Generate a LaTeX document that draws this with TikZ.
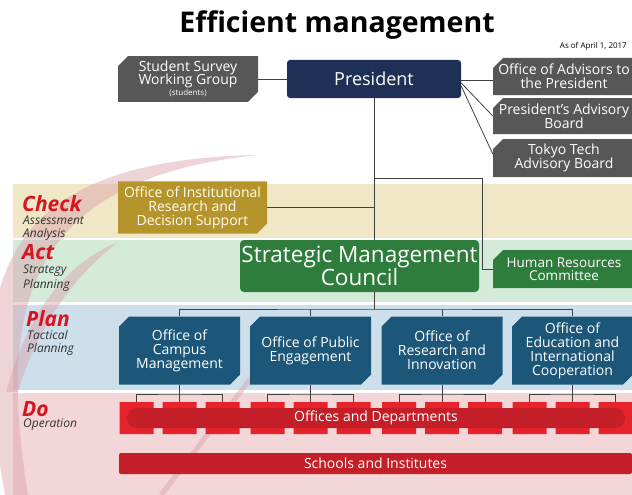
\documentclass[tikz,border=0pt]{standalone}
\usepackage{fontspec}
\setmainfont{Open Sans}
\usetikzlibrary{shapes.misc,backgrounds}

\definecolor{boxgray}{HTML}{575757}
\definecolor{presblue}{HTML}{1F3057}
\definecolor{planblue}{HTML}{1C5779}
\definecolor{oirgold}{HTML}{B5952B}
\definecolor{smcgreen}{HTML}{2E7D3C}
\definecolor{tabred}{HTML}{E6222B}
\definecolor{bardark}{HTML}{C41F28}
\definecolor{phasered}{HTML}{D7141F}
\definecolor{checkband}{HTML}{F0E7C6}
\definecolor{actband}{HTML}{D4EBDA}
\definecolor{planband}{HTML}{CDDFEA}
\definecolor{doband}{HTML}{F2D6D8}
\definecolor{swooshc}{HTML}{D9A0A8}

\newcommand{\fsz}[1]{\fontsize{#1}{#1}\selectfont}

\tikzset{
  box/.style={inner sep=0pt, align=center, text=white},
  cham/.style={chamfered rectangle, chamfered rectangle xsep=5pt, chamfered rectangle ysep=5pt},
  graybox/.style={box, cham, fill=boxgray, font=\fsz{14}, minimum width=142pt},
  planbox/.style={box, cham, chamfered rectangle corners={north west,south east},
    fill=planblue, font=\fsz{14}, minimum width=121pt, minimum height=68pt},
  tab/.style={cham, fill=tabred, inner sep=0pt, minimum width=34pt, minimum height=32pt,
    chamfered rectangle xsep=3pt, chamfered rectangle ysep=3pt},
  phase/.style={anchor=west, inner sep=0pt, text=phasered, font=\fsz{21}\bfseries\itshape},
  phasesub/.style={anchor=west, inner sep=0pt, text=black!80, font=\fsz{12}\itshape},
  conn/.style={draw=black!75, line width=0.8pt},
}

\begin{document}
\begin{tikzpicture}[x=1pt,y=-1pt]
  \clip (0,0) rectangle (632,495);

  \node[font=\fsz{28.5}\bfseries] (title) at (337,25) {Efficient management};
  \node[anchor=east, inner sep=0pt, font=\fsz{8}] (asof) at (627,46) {As of April 1, 2017};

  % top row
  \node[box, cham, chamfered rectangle corners={north west,south east}, fill=boxgray,
    minimum width=140pt, minimum height=42pt, font=\fsz{14}] (sswg) at (188,79)
    {Student Survey\\[-1pt]Working Group\\[-3pt]{\fsz{8}(students)}};
  \node[box, fill=presblue, rounded corners=3pt, minimum width=174pt, minimum height=38pt,
    font=\fsz{18}] (pres) at (374,79) {President};
  \node[graybox, chamfered rectangle corners=north west, minimum height=37pt] (adv) at (564,76.5)
    {Office of Advisors to\\the President};
  \node[graybox, chamfered rectangle corners=north west, minimum height=36pt] (padv) at (564,116)
    {President’s Advisory\\Board};
  \node[graybox, chamfered rectangle corners=north west, minimum height=38pt] (ttab) at (564,158)
    {Tokyo Tech\\Advisory Board};

  % phases
  \node[phase] (check) at (22,204) {Check};
  \node[phasesub] (checka) at (23,220) {Assessment};
  \node[phasesub] (checkb) at (23,234) {Analysis};
  \node[phase] (act) at (22,252) {Act};
  \node[phasesub] (acta) at (23,271) {Strategy};
  \node[phasesub] (actb) at (23,285) {Planning};
  \node[phase] (plan) at (26,319) {Plan};
  \node[phasesub] (plana) at (27,335) {Tactical};
  \node[phasesub] (planb) at (27,349) {Planning};
  \node[phase] (do) at (22,409) {Do};
  \node[phasesub] (doa) at (23,425) {Operation};

  % check / act
  \node[box, cham, chamfered rectangle corners=south east, fill=oirgold, text=white!92!yellow,
    minimum width=149pt, minimum height=49pt, font=\fsz{14}] (oir) at (192.5,207.5)
    {Office of Institutional\\Research and\\Decision Support};
  \node[box, fill=smcgreen, rounded corners=4pt, minimum width=239pt, minimum height=52pt,
    font=\fsz{22.5}] (smc) at (359.5,266) {Strategic Management\\Council};
  \node[box, cham, chamfered rectangle corners=north west, fill=smcgreen,
    minimum width=142pt, minimum height=38pt, font=\fsz{13.5}] (hr) at (564,269)
    {Human Resources\\Committee};

  % plan
  \node[planbox] (camp) at (179.5,350.5) {Office of\\Campus\\Management};
  \node[planbox] (pub) at (310.5,350.5) {Office of Public\\Engagement};
  \node[planbox] (res) at (442,350.5) {Office of\\Research and\\Innovation};
  \node[planbox] (edu) at (572.5,350.5) {Office of\\Education and\\International\\Cooperation};

  % do
  \foreach \b/\x in {camp/179.5,pub/310.5,res/442,edu/572.5} {
    \node[tab] (\b1) at (\x-43,418) {};
    \node[tab] (\b2) at (\x,418) {};
    \node[tab] (\b3) at (\x+43,418) {};
    \coordinate (\b br) at (\x,394);
  }
  \node[box, fill=bardark, rounded corners=10pt, minimum width=498pt, minimum height=20pt,
    font=\fsz{14}] (odept) at (376,418) {Offices and Departments};
  \node[box, fill=bardark, rounded corners=2pt, minimum width=513pt, minimum height=21pt,
    font=\fsz{14}] (schools) at (375.5,463.5) {Schools and Institutes};

  \coordinate (bus) at (374,309);
  \coordinate (hrbend) at (482,178);

  \begin{scope}[on background layer]
    % bands
    \fill[checkband] (13,184) rectangle (632,238);
    \fill[actband] (13,240) rectangle (632,302);
    \fill[planband] (13,305) rectangle (632,390);
    \fill[doband] (13,393) rectangle (632,495);
    % cycle swoosh
    \fill[swooshc, opacity=0.45] (5,495) .. controls (-30,300) and (-20,160) .. (258,155)
      .. controls (15,180) and (0,320) .. (28,495) -- cycle;
    \fill[swooshc, opacity=0.45] (118,242) .. controls (70,262) and (30,305) .. (6,392)
      -- (18,392) .. controls (40,318) and (80,272) .. cycle;
    \draw[swooshc, opacity=0.45, line width=5pt] (161,495) -- (265,360);
    % connectors
    \draw[conn] (pres.west) -- (sswg.east);
    \draw[conn] ([yshift=-1pt]pres.east) -- ([yshift=-1pt]pres.east -| adv.west);
    \draw[conn] ([yshift=-4pt]pres.east) -- (padv.west);
    \draw[conn] ([yshift=-7pt]pres.east) -- ([yshift=4pt]ttab.west);
    \draw[conn] (pres.south) -- (bus);
    \draw[conn] (pres.south |- hrbend) -- (hrbend) |- (hr.west);
    \draw[conn] (oir.east) -- (oir.east -| bus);
    \draw[conn] (camp.north) |- (bus) -| (edu.north);
    \draw[conn] (pub.north) -- (pub.north |- bus);
    \draw[conn] (res.north) -- (res.north |- bus);
    \foreach \b in {camp,pub,res,edu} {
      \draw[conn] (\b.south) -- (\b2.north);
      \draw[conn] (\b1.north) |- (\b br) -| (\b3.north);
    }
  \end{scope}
\end{tikzpicture}
\end{document}
